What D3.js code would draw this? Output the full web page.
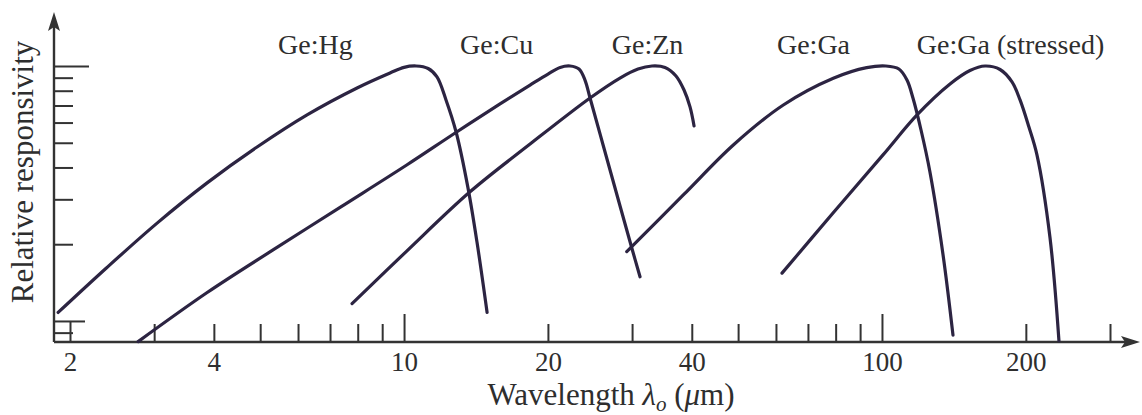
<!DOCTYPE html>
<html>
<head>
<meta charset="utf-8">
<script src="https://cdn.jsdelivr.net/npm/d3@7"></script>
<style>
  html, body { margin: 0; padding: 0; background: #ffffff; }
  svg { display: block; }
</style>
</head>
<body>
<svg id="chart" width="1142" height="415"></svg>
<script>
// Detector names, in the order the curves are drawn
const seriesNames = ["Ge:Hg", "Ge:Cu", "Ge:Zn", "Ge:Ga", "Ge:Ga (stressed)"];

// Wavelength (µm) and relative responsivity along each curve
const geHgLambda = [1.889, 2.38, 3.043, 3.872, 4.926, 6.267, 7.974, 9.348, 10.0, 10.6, 11.23, 11.72, 12.24, 12.85, 13.61, 14.21, 14.92];
const geHgResp   = [0.108, 0.161, 0.242, 0.348, 0.481, 0.643, 0.820, 0.939, 0.988, 1.0, 0.978, 0.906, 0.736, 0.551, 0.332, 0.204, 0.108];

const geCuLambda = [2.777, 3.866, 5.32, 7.347, 10.13, 12.79, 15.88, 18.35, 20.01, 21.21, 22.25, 23.23, 23.91, 24.5, 26.09, 28.3, 29.99, 31.17];
const geCuResp   = [0.083, 0.129, 0.190, 0.279, 0.409, 0.546, 0.710, 0.842, 0.930, 0.987, 1.0, 0.973, 0.881, 0.749, 0.490, 0.283, 0.192, 0.149];

const geZnLambda = [7.784, 10.13, 13.74, 18.35, 24.5, 28.3, 30.87, 33.02, 35.16, 37.07, 38.53, 39.66, 40.44];
const geZnResp   = [0.117, 0.188, 0.321, 0.494, 0.749, 0.897, 0.973, 1.0, 0.987, 0.914, 0.805, 0.691, 0.582];

const geGaLambda = [29.24, 38.4, 48.86, 62.17, 79.1, 92.9, 101.9, 108.5, 112.8, 116.1, 120.7, 126.0, 134.2, 140.8];
const geGaResp   = [0.187, 0.312, 0.490, 0.703, 0.895, 0.985, 1.0, 0.973, 0.881, 0.749, 0.561, 0.384, 0.182, 0.088];

const geGaStressedLambda = [61.78, 78.99, 100.5, 118.4, 138.8, 152.8, 164.3, 176.6, 187.1, 194.5, 203.0, 211.0, 224.7, 234.6];
const geGaStressedResp   = [0.154, 0.265, 0.448, 0.643, 0.850, 0.960, 1.0, 0.969, 0.866, 0.736, 0.576, 0.448, 0.212, 0.0835];

// Wavelength at which each curve name starts
const labelLambda = [5.45, 13.1, 27.2, 60.3, 118.3];

// Axis ticks
const xTickValues = [2, 3, 4, 5, 6, 7, 8, 9, 10, 20, 30, 40, 50, 60, 70, 80, 90, 100, 200, 300];
const xTickLabels = [2, 4, 10, 20, 40, 100, 200];
const xMajorTicks = [10, 100];
const yTickValues = [0.09, 0.1, 0.2, 0.3, 0.4, 0.5, 0.6, 0.7, 0.8, 0.9, 1.0];
const yMajorTicks = [0.1, 1.0];

const curves = [
  { name: seriesNames[0], lambda: geHgLambda, resp: geHgResp },
  { name: seriesNames[1], lambda: geCuLambda, resp: geCuResp },
  { name: seriesNames[2], lambda: geZnLambda, resp: geZnResp },
  { name: seriesNames[3], lambda: geGaLambda, resp: geGaResp },
  { name: seriesNames[4], lambda: geGaStressedLambda, resp: geGaStressedResp }
];

const ink = "#2c2442";
const axisInk = "#333333";
const textInk = "#2e2e2e";
const serif = "'Liberation Serif', 'Times New Roman', serif";

const svg = d3.select("#chart");

// Logarithmic wavelength and responsivity scales
const x = d3.scaleLog().domain([2, 300]).range([70, 1110]);
const y = d3.scaleLog().domain([0.0827, 1]).range([342, 66]);

const originX = 54;
const originY = y(y.domain()[0]);

// ---- X axis: ticks pointing up, numbers below ----
const xAxis = d3.axisBottom(x)
  .tickValues(xTickValues)
  .tickSizeInner(-18)
  .tickSizeOuter(0)
  .tickPadding(10)
  .tickFormat(d => xTickLabels.includes(d) ? String(d) : "");

const gx = svg.append("g")
  .attr("transform", `translate(0,${originY})`)
  .call(xAxis);
gx.select(".domain").remove();
gx.selectAll(".tick line")
  .attr("stroke", axisInk)
  .attr("stroke-width", 2)
  .attr("y2", d => xMajorTicks.includes(d) ? -28 : (d === 2 ? y(0.1) - originY : -18));
gx.selectAll(".tick text")
  .attr("fill", textInk)
  .attr("font-family", serif)
  .attr("font-size", 27);

// ---- Y axis: ticks pointing right, no numbers ----
const yAxis = d3.axisLeft(y)
  .tickValues(yTickValues)
  .tickSizeInner(-19)
  .tickSizeOuter(0)
  .tickFormat("");

const gy = svg.append("g")
  .attr("transform", `translate(${originX},0)`)
  .call(yAxis);
gy.select(".domain").remove();
gy.selectAll(".tick line")
  .attr("stroke", axisInk)
  .attr("stroke-width", 2)
  .attr("x2", d => d === 1.0 ? 35 : (yMajorTicks.includes(d) ? 31 : 19));

// ---- Axis lines with arrowheads ----
const xEnd = 1140;
const yTop = 12;
svg.append("line")
  .attr("x1", originX).attr("y1", originY)
  .attr("x2", xEnd - 6).attr("y2", originY)
  .attr("stroke", axisInk).attr("stroke-width", 2.4);
svg.append("line")
  .attr("x1", originX).attr("y1", originY)
  .attr("x2", originX).attr("y2", yTop + 6)
  .attr("stroke", axisInk).attr("stroke-width", 2.4);
svg.append("path")
  .attr("d", `M${xEnd},${originY} L${xEnd - 19},${originY - 6} L${xEnd - 15},${originY} L${xEnd - 19},${originY + 6} Z`)
  .attr("fill", axisInk);
svg.append("path")
  .attr("d", `M${originX},${yTop} L${originX - 6},${yTop + 19} L${originX},${yTop + 15} L${originX + 6},${yTop + 19} Z`)
  .attr("fill", axisInk);

// ---- Response curves ----
const line = d3.line()
  .x(d => x(d[0]))
  .y(d => y(d[1]))
  .curve(d3.curveCatmullRom.alpha(0.5));

svg.append("g")
  .selectAll("path")
  .data(curves)
  .join("path")
  .attr("d", c => line(c.lambda.map((l, i) => [l, c.resp[i]])))
  .attr("fill", "none")
  .attr("stroke", ink)
  .attr("stroke-width", 3.2)
  .attr("stroke-linecap", "round")
  .attr("stroke-linejoin", "round");

// ---- Curve names ----
svg.append("g")
  .selectAll("text")
  .data(curves)
  .join("text")
  .attr("x", (c, i) => x(labelLambda[i]))
  .attr("y", 54)
  .attr("fill", textInk)
  .attr("font-family", serif)
  .attr("font-size", 28)
  .text(c => c.name);

// ---- Axis titles ----
const xTitle = svg.append("text")
  .attr("x", 611)
  .attr("y", 405)
  .attr("text-anchor", "middle")
  .attr("fill", textInk)
  .attr("font-family", serif)
  .attr("font-size", 31);
xTitle.append("tspan").text("Wavelength ");
xTitle.append("tspan").attr("font-style", "italic").text("λ");
xTitle.append("tspan").attr("font-style", "italic").attr("font-size", 21).attr("dy", 6).text("o");
xTitle.append("tspan").attr("dy", -6).text(" (");
xTitle.append("tspan").attr("font-style", "italic").text("μ");
xTitle.append("tspan").text("m)");

svg.append("text")
  .attr("transform", "translate(33,172) rotate(-90)")
  .attr("text-anchor", "middle")
  .attr("fill", textInk)
  .attr("font-family", serif)
  .attr("font-size", 31)
  .text("Relative responsivity");
</script>
</body>
</html>
